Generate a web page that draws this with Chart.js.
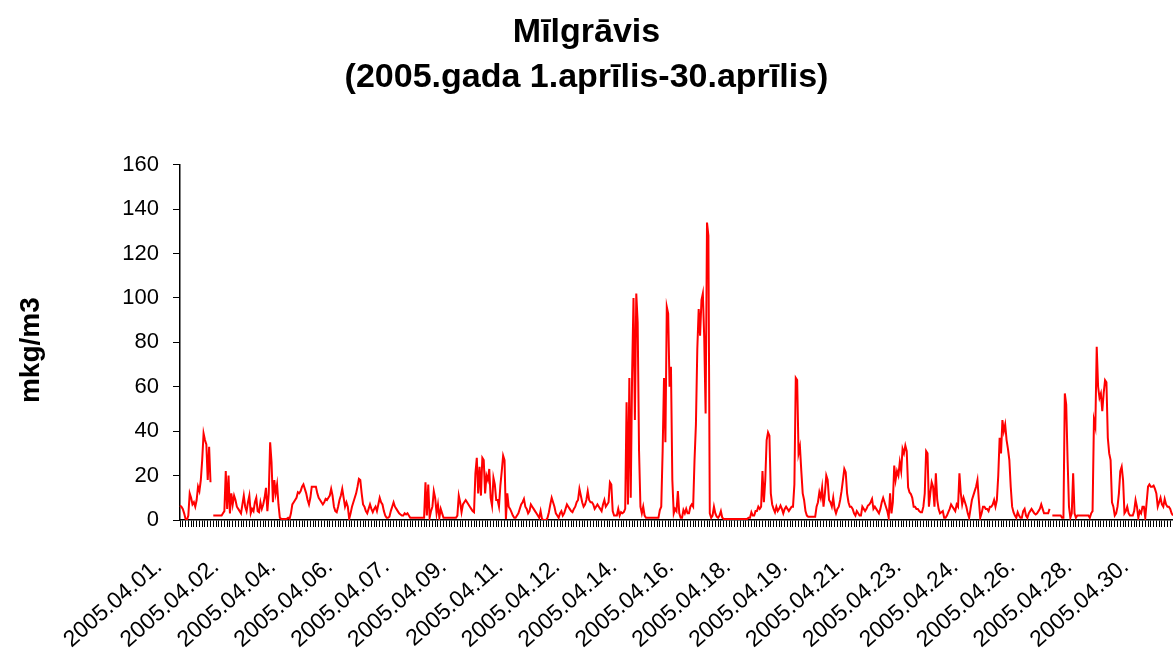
<!DOCTYPE html>
<html>
<head>
<meta charset="utf-8">
<title>Mīlgrāvis</title>
<script src="https://cdn.jsdelivr.net/npm/chart.js@4.4.1/dist/chart.umd.min.js"></script>
<style>
  html, body { margin: 0; padding: 0; background: #fff; overflow: hidden; }
  canvas { display: block; }
</style>
</head>
<body>
<canvas id="lineChart" width="1173" height="653"></canvas>
<script>
  // hourly values, 2005.04.01 00:00 onwards, one row per day
  const hourly = [
    6.5,6,5,3,0.5,0,2,12,10,7,8,6,9,15,13,18,27,39,36,34,18,33,17,null,
    2,2,2,2,2,2,2,3,4,22,5,20,3,12,7,11,9,6,5,4,3,7,11,6,
    4,8,11,3,5,4,8,10,4,3.5,8,5,7,10,14.5,4,12,35,26,8,18,12,16,7,
    1,0.5,0.5,0.5,0.5,0.5,1,0.5,3,7,8,9,10,12.5,12,13,15,16,14,12,9,7,10,15,
    15,15,15,12,10,9,8,7,8,9.5,9,10,11,14,11,6,4,3.5,6,9,11,14,10,6,
    8,6,0.5,3,6,8,10,12,15,18.5,18,12,7,6,4,3,5,7,5,3.5,5,6,4,7,
    10,8,7,4,2,1,1,1.5,4,6,8,6,5,4,3,2.5,2,2,3,2.5,3,2,1,1,
    1,1,1,1,1,1,1,1,1,17,2,16,1,4,6,13,10,3,7,1,5,3,1,1,
    1,1,1,1,1,1,1,1,2,11,8,3.5,7,8,9,8,7,6,5,4,3.5,21,28,12,
    24,11,28,27,12,20,18,23,10,6.5,19,16,9,9,6,15.5,22,29,27,0.5,12,6,5,3.5,
    2,1,1,2,3,5,7,8,9.5,6,5,3,4,7,6,5,4,3,2,1,4,0.5,0,0,
    0,1,3.5,7,10,8,6,3,2,1,3,4,2,3,5,7,6,5,4,3.5,5,6,8,9,
    14,11,8,6,7,9,13,9,8,8,7,5,6,7,6,5,4,7,9,6,7,8,17,16,
    4,2,2,2,5,2,3.5,3,3.5,5,53,7,64,10,66,100,45,102,89,31,6,3,6,2,
    1,1,1,1,1,1,1,1,1,1,4.5,6,31,64,35,96,93,60,69,18,3,5,4,13,
    3,1,1,4.5,3,5,3,3,6,7,6,27,43,77,95,83,99,102,82,48,134,128,3,1,
    2,6,3,1.5,1,2,4,1,0.5,0.5,0.5,0.5,0.5,0.5,0.5,0.5,0.5,0.5,0.5,0.5,0.5,0.5,0.5,0.5,
    0.5,0.5,1,1,3.5,2,2,4,4,6,5,6,22,8,18,36,39.5,38,12,7,5,3.5,6,4,
    5,6.5,5,3,5,6,5,4,5,6,6,16,64,63,30,33,22,12,9,4,2,1.5,1.5,1.5,
    1.5,1.5,1.5,6,8,12.5,10,14.7,6,12,20,18,9,8,6,10,5,3,5,6,9,13,18,23,
    21.5,12,8,6,6,5,3,2,4,3,2,2,6,5,4,5,6.5,7,8,9.5,5,6,5,4,
    3,5,8,10,8,6,4,1,12,3,8,24.5,18,22,20,26,22,32,30,33.5,31,14.7,12.5,11.7,
    10,6,6,5,5,4,3.5,3.5,6,12,31,30,6,12,17,15,6,21,9,5,3,3.5,4,1,
    1,2,3.5,5,7,6,5,4,7,6,21,12,7,10,8,6,3,1,5,9,11,13,15,18,
    9,1,3,6,6,5,5,4,6,6,7,9,6,9,20,37,30,45,40,43,36,32,27,15,
    6,3.5,2,1,3.5,2,1,1,4,5,2,1,3,4,5,4,3,2.5,3,4,5,7,5,3,
    3,3,3,5,null,2,2,2,2,2,2,2,1,1,57,52,27,6,1,3,21,3,1,2,
    2,2,2,2,2,2,2,2,1,3,4,45,42,78,60,55,57,49,57,63,62,37,30,27,
    8,6,2,3,6,12,22,24,18,3,4,6,3,2,2,2,4,9,6,1,4,3,6,6,
    1,8,15,16,15,15,15.5,14,12,6,8,10,7,6,9.5,7,6,6,5,3,2
  ];

  const titleLines = ['Mīlgrāvis', '(2005.gada 1.aprīlis-30.aprīlis)'];
  const yTitle = 'mkg/m3\u00a0\u00a0'; // trailing spaces nudge the rotated title down a little
  const yMin = 0, yMax = 160, yStep = 20;
  const labelStep = 41; // one date label every 41 hours

  // category per hour: "2005.04.DD."
  const hours = hourly.map((v, i) => {
    const day = Math.floor(i / 24) + 1;
    return '2005.04.' + String(day).padStart(2, '0') + '.';
  });

  Chart.defaults.font.family = "'Liberation Sans', Arial, sans-serif";
  Chart.defaults.color = '#000';

  const ctx = document.getElementById('lineChart').getContext('2d');
  const myLineChart = new Chart(ctx, {
    type: 'line',
    data: {
      labels: hours,
      datasets: [{
        data: hourly,
        borderColor: '#ff0000',
        borderWidth: 2,
        pointRadius: 0,
        tension: 0,
        spanGaps: false
      }]
    },
    options: {
      responsive: false,
      animation: false,
      layout: { padding: 0 },
      plugins: {
        legend: { display: false },
        tooltip: { enabled: false },
        title: {
          display: true,
          text: titleLines,
          color: '#000',
          font: { size: 34, weight: 'bold', lineHeight: 1.32 },
          padding: { top: 10, bottom: 65 }
        }
      },
      scales: {
        x: {
          type: 'category',
          offset: false,
          grid: {
            drawOnChartArea: false,
            tickLength: 7,
            color: c => (c.index % 2 === 0 ? '#000' : 'rgba(0,0,0,0)'),
            lineWidth: 1
          },
          border: { color: '#000', width: 1.5 },
          ticks: {
            autoSkip: false,
            minRotation: 41,
            maxRotation: 41,
            labelOffset: -21,
            padding: 26,
            color: '#000',
            font: { size: 23 },
            callback: function (val, i) {
              return i % labelStep === 0 ? this.getLabelForValue(val) : '';
            }
          },
          afterFit: s => { s.height = 133; s.paddingLeft = 0; s.paddingRight = 0; }
        },
        y: {
          min: yMin,
          max: yMax,
          grid: { drawOnChartArea: false, tickLength: 7, color: '#000' },
          border: { color: '#000', width: 1.5 },
          ticks: { stepSize: yStep, padding: 14, color: '#000', font: { size: 22 } },
          title: {
            display: true,
            text: yTitle,
            color: '#000',
            font: { size: 28, weight: 'bold' },
            padding: { top: 14, bottom: 0 }
          },
          afterFit: s => { s.width = 180; }
        }
      }
    }
  });
</script>
</body>
</html>
